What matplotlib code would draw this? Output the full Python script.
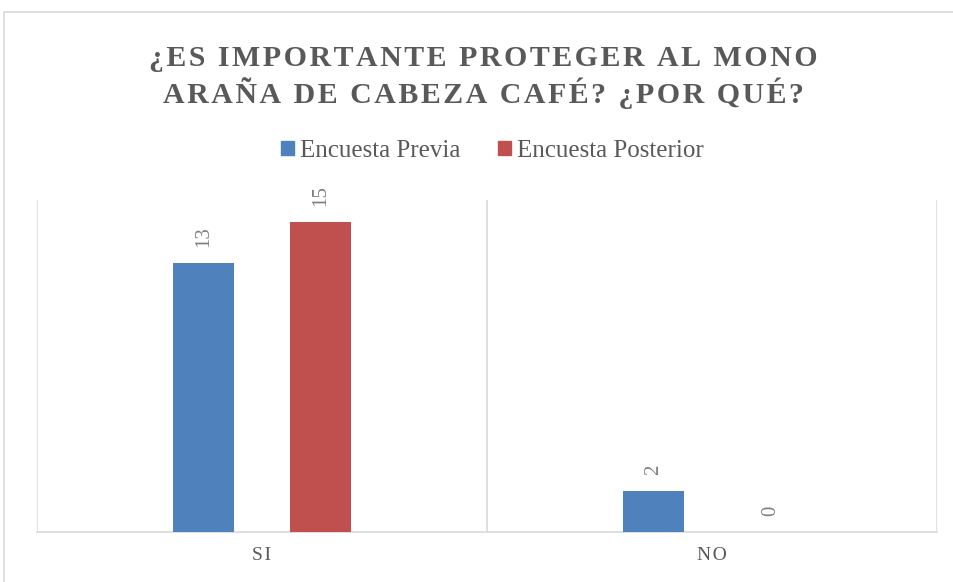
import matplotlib
matplotlib.use("Agg")
import matplotlib.pyplot as plt
from matplotlib.patches import Rectangle, Patch
import numpy as np

categories = ["SI", "NO"]
series_names = ["Encuesta Previa", "Encuesta Posterior"]
previa = [13, 2]
posterior = [15, 0]
title_lines = ["¿ES IMPORTANTE PROTEGER AL MONO", "ARAÑA DE CABEZA CAFÉ? ¿POR QUÉ?"]

colors = ["#4f81bd", "#c0504d"]
gray = "#595959"
label_gray = "#808080"
grid_gray = "#d9d9d9"
HS = "\u200a"

def spaced(s):
    return HS.join(list(s))

fig = plt.figure(figsize=(9.54, 5.82), dpi=100)
ax = fig.add_axes([37/954, 1-532/582, (937-37)/954, (532-200)/582])

# chart border
fig.patches.append(Rectangle((4.5/954, -0.05), 1.1, 1-12/582+0.05, transform=fig.transFigure,
                             fill=False, edgecolor=grid_gray, linewidth=1.2))

x = np.arange(len(categories))
w = 0.136
off = 0.13
b1 = ax.bar(x - off, previa, w, color=colors[0], label=series_names[0], zorder=3)
b2 = ax.bar(x + off, posterior, w, color=colors[1], label=series_names[1], zorder=3)

for bars, vals in ((b1, previa), (b2, posterior)):
    for r, v in zip(bars, vals):
        ax.annotate(str(v), (r.get_x() + r.get_width()/2, r.get_height()),
                    xytext=(0, 16), textcoords="offset pixels",
                    rotation=90, ha="center", va="bottom", fontsize=15,
                    color=label_gray, family="Liberation Serif")

ax.set_xlim(-0.5, 1.5)
ax.set_ylim(0, 16.06)
ax.set_yticks([])
ax.set_xticks(x)
ax.set_xticklabels([spaced(c) for c in categories], family="Liberation Serif",
                   fontsize=14, color=gray)
ax.tick_params(axis="x", length=0, pad=11)
for s in ("top", "right", "left"):
    ax.spines[s].set_visible(False)
ax.spines["bottom"].set_color(grid_gray)
ax.spines["bottom"].set_linewidth(1.2)
for xv in (-0.5, 0.5, 1.5):
    ax.axvline(xv, color=grid_gray, linewidth=1.2, zorder=1)

for line, ybase in zip(title_lines, (66, 103)):
    fig.text(0.507, 1-ybase/582, spaced(line), ha="center", va="baseline",
             fontsize=21.5, fontweight="bold", color=gray, family="Liberation Serif")

handles = [Patch(color=c) for c in colors]
fig.legend(handles, series_names, loc="center", bbox_to_anchor=(0.516, 1-151/582),
           ncol=2, frameon=False, prop={"family": "Liberation Serif", "size": 18},
           labelcolor=gray, handlelength=0.52, handleheight=0.52, handletextpad=0.25,
           columnspacing=1.5)

fig.savefig("out.png", dpi=100)
